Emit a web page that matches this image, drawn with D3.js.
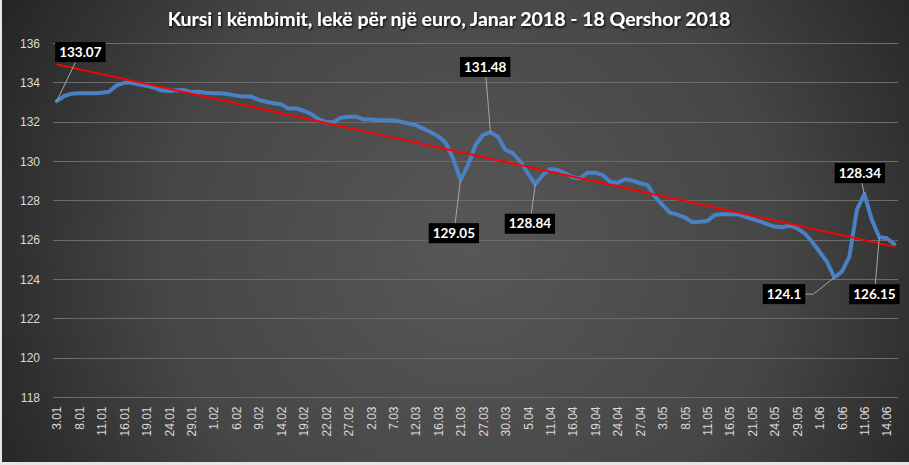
<!DOCTYPE html>
<html><head><meta charset="utf-8">
<script src="https://cdn.jsdelivr.net/npm/d3@7"></script>
<style>
html,body{margin:0;padding:0;background:#e6e6e6;}
svg{display:block;}
</style></head>
<body>
<svg id="chart" width="909" height="465"></svg>
<script>
const title = "Kursi i këmbimit, lekë për një euro, Janar 2018 - 18 Qershor 2018";
const dates = ["3.01","4.01","5.01","8.01","9.01","10.01","11.01","12.01","15.01","16.01","17.01","18.01","19.01","22.01","23.01","24.01","25.01","26.01","29.01","30.01","31.01",
"1.02","2.02","5.02","6.02","7.02","8.02","9.02","12.02","13.02","14.02","15.02","16.02","19.02","20.02","21.02","22.02","23.02","26.02","27.02","28.02",
"1.03","2.03","5.03","6.03","7.03","8.03","9.03","12.03","13.03","15.03","16.03","19.03","20.03","21.03","23.03","26.03","27.03","28.03","29.03","30.03",
"3.04","4.04","5.04","6.04","10.04","11.04","12.04","13.04","16.04","17.04","18.04","19.04","20.04","23.04","24.04","25.04","26.04","27.04","30.04",
"2.05","3.05","4.05","7.05","8.05","9.05","10.05","11.05","14.05","15.05","16.05","17.05","18.05","21.05","22.05","23.05","24.05","25.05","28.05","29.05","30.05","31.05",
"1.06","4.06","5.06","6.06","7.06","8.06","11.06","12.06","13.06","14.06","15.06"];
const rates = [133.07,133.33,133.45,133.47,133.47,133.47,133.50,133.55,133.87,134.00,
134.00,133.92,133.85,133.76,133.62,133.59,133.62,133.64,133.53,133.55,
133.50,133.47,133.47,133.42,133.35,133.30,133.30,133.13,133.04,132.96,
132.91,132.70,132.70,132.58,132.42,132.16,132.00,132.00,132.23,132.28,
132.28,132.14,132.13,132.10,132.10,132.10,132.03,131.94,131.86,131.67,
131.50,131.28,130.96,130.16,129.05,129.82,130.84,131.35,131.48,131.26,
130.59,130.42,130.00,129.40,128.84,129.31,129.62,129.57,129.40,129.20,
129.15,129.43,129.43,129.31,128.97,128.92,129.10,129.03,128.89,128.81,
128.21,127.79,127.40,127.30,127.16,126.91,126.94,126.98,127.28,127.33,
127.30,127.33,127.20,127.08,126.96,126.82,126.69,126.66,126.74,126.60,
126.35,125.92,125.41,124.90,124.10,124.40,125.16,127.54,128.34,127.03,
126.15,126.10,125.80];
const yTicks = [118,120,122,124,126,128,130,132,134,136];
const labelIdx = [0,54,58,64,104,108,110];

const W = 909, H = 465;
const svg = d3.select("#chart");
const defs = svg.append("defs");
const rg = defs.append("radialGradient").attr("id","bg").attr("gradientUnits","userSpaceOnUse")
  .attr("cx",470).attr("cy",250).attr("r",560);
rg.append("stop").attr("offset","0").attr("stop-color","#575757");
rg.append("stop").attr("offset","0.55").attr("stop-color","#464646");
rg.append("stop").attr("offset","1").attr("stop-color","#202020");
const sh = defs.append("filter").attr("id","shadow").attr("x","-10%").attr("y","-50%").attr("width","120%").attr("height","200%");
sh.append("feDropShadow").attr("dx",1).attr("dy",1.5).attr("stdDeviation",1.2).attr("flood-color","#000").attr("flood-opacity",0.9);

svg.append("rect").attr("x",2).attr("y",0).attr("width",W-2).attr("height",462).attr("fill","url(#bg)");

const x = d3.scalePoint().domain(dates).range([53,898]).padding(0.5);
const y = d3.scaleLinear().domain([118,136]).range([397.5,43.5]);

// gridlines
svg.append("g").selectAll("line").data(yTicks).join("line")
  .attr("x1",53).attr("x2",898).attr("y1",d=>y(d)).attr("y2",d=>y(d))
  .attr("stroke","#6c6c6c").attr("stroke-width",1).attr("shape-rendering","crispEdges");

// y labels
svg.append("g").selectAll("text").data(yTicks).join("text")
  .attr("x",40).attr("y",d=>y(d)).attr("dy","0.35em").attr("text-anchor","end")
  .attr("fill","#d9d9d9").attr("font-family","Liberation Sans, Arial, sans-serif").attr("font-size",12)
  .text(d=>d);

// x axis
const xAxis = d3.axisBottom(x).tickValues(dates.filter((d,i)=>i%3===0)).tickSize(0);
const gx = svg.append("g").attr("transform",`translate(0,${y(118)})`).call(xAxis);
gx.select(".domain").remove();
gx.selectAll("text").attr("transform","rotate(-90)").attr("x",-9).attr("y",0).attr("dy","0.35em")
  .attr("text-anchor","end").attr("fill","#d9d9d9").attr("font-family","Liberation Sans, Arial, sans-serif").attr("font-size",12);

// trend line (linear regression of the series)
const n = rates.length;
const idx = d3.range(n);
const mx = d3.mean(idx), my = d3.mean(rates);
const slope = d3.sum(idx, i=>(i-mx)*(rates[i]-my)) / d3.sum(idx, i=>(i-mx)*(i-mx));
const icpt = my - slope*mx;
const trend = [icpt, icpt + slope*(n-1)];

// main line
svg.append("path").datum(rates)
  .attr("d", d3.line().x((d,i)=>x(dates[i])).y(d=>y(d)))
  .attr("fill","none").attr("stroke","#4a80c4").attr("stroke-width",4)
  .attr("stroke-linejoin","round").attr("stroke-linecap","round");

svg.append("line")
  .attr("x1",x(dates[0])).attr("y1",y(trend[0]))
  .attr("x2",x(dates[n-1])).attr("y2",y(trend[1]))
  .attr("stroke","#ff0000").attr("stroke-width",2);

// data labels
const offsets = {0:[23.6,-49],54:[-6.7,53],58:[-5.3,-65.4],64:[-5.4,39.4],104:[-50.4,16.6],108:[-4.5,-21],110:[-4.9,57]};
const lg = svg.append("g");
labelIdx.forEach(i=>{
  const px = x(dates[i]), py = y(rates[i]);
  const cx = px + offsets[i][0], cy = py + offsets[i][1];
  const t = lg.append("text").attr("x",cx).attr("y",cy).attr("dy","0.35em").attr("text-anchor","middle")
    .attr("fill","#fff").attr("font-family","Lato, sans-serif").attr("font-weight","bold").attr("font-size",13.5)
    .text(String(rates[i]));
  const w = t.node().getComputedTextLength() + 8, h = 20;
  let pts;
  if (i===104) pts = [[px,py],[cx+w/2+8,cy],[cx,cy]];
  else pts = [[px,py],[cx,cy]];
  lg.insert("path","text").attr("d",d3.line()(pts)).attr("fill","none").attr("stroke","#a6a6a6").attr("stroke-width",1);
  lg.insert("rect","text").attr("x",cx-w/2).attr("y",cy-h/2).attr("width",w).attr("height",h).attr("fill","#000");
});

// title
const tt = svg.append("text").attr("x",449).attr("y",26).attr("text-anchor","middle")
  .attr("fill","#fff").attr("font-family","Lato, sans-serif").attr("font-weight","bold").attr("font-size",17)
  .attr("filter","url(#shadow)").text(title);
const tw = tt.node().getComputedTextLength();
tt.attr("font-size", 17*563/tw);
</script>
</body></html>
